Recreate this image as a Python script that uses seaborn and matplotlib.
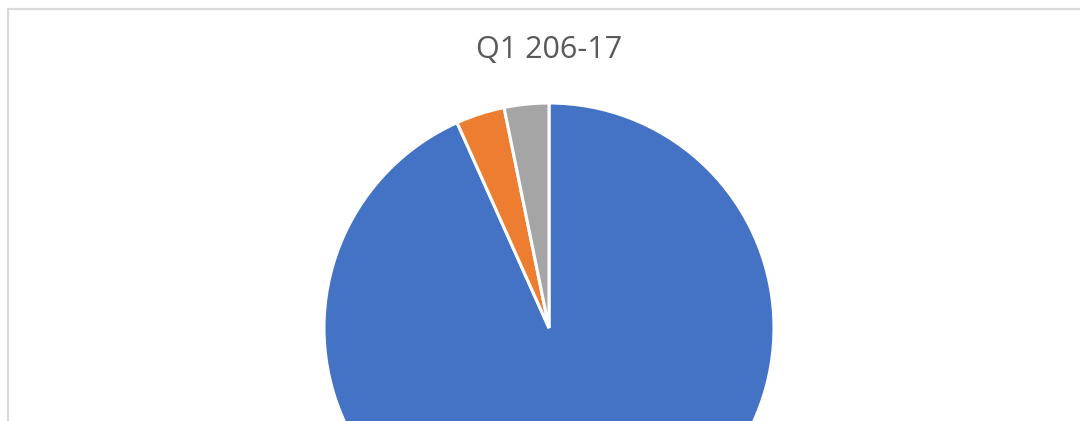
import matplotlib
matplotlib.use("Agg")
import matplotlib.pyplot as plt
import seaborn as sns
from matplotlib.patches import Rectangle

sns.set_style("white")
plt.rcParams['font.family'] = ['Open Sans', 'DejaVu Sans']

# Slice values (share of total)
categories = ['A', 'B', 'C']
shares = [93.3, 3.5, 3.2]
colors = ['#4472C4', '#ED7D31', '#A5A5A5']
title = 'Q1 206-17'

W, H = 1080, 421
fig = plt.figure(figsize=(W / 100, H / 100), dpi=100)
ax = fig.add_axes([0, 0, 1, 1])

# pie in pixel coordinates (y from bottom)
ax.pie(shares, colors=colors, startangle=90, counterclock=False,
       center=(549, H - 328), radius=225,
       wedgeprops={'edgecolor': 'white', 'linewidth': 2.2})

# chart area border (cropped at right and bottom)
ax.add_patch(Rectangle((7.5, -50), W + 50, H - 8.5 + 50, fill=False,
                       edgecolor='#D9D9D9', linewidth=1.6))

ax.text(549, H - 50, title, ha='center', va='center', fontsize=22,
        color='#595959')

ax.set_xlim(0, W)
ax.set_ylim(0, H)
ax.set_aspect('auto')
ax.axis('off')

fig.savefig('out.png', dpi=100)
